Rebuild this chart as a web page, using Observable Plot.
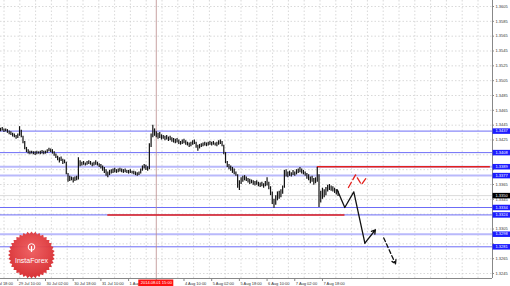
<!DOCTYPE html>
<html><head><meta charset="utf-8">
<script src="https://cdn.jsdelivr.net/npm/d3@7"></script>
<script src="https://cdn.jsdelivr.net/npm/@observablehq/plot@0.6"></script>
<style>
html,body{margin:0;padding:0;background:#fff;}
#wrap{position:relative;width:510px;height:286px;overflow:hidden;}
#wrap svg{display:block;}
</style></head><body><div id="wrap"></div>
<script>
// ---------- data ----------
const priceTicks = [1.3245,1.3265,1.3285,1.3305,1.3325,1.3345,1.3365,1.3385,1.3405,1.3425,1.3445,1.3465,1.3485,1.3505,1.3525,1.3545,1.3565,1.3585,1.3605];
const timeTicks = [-6,10,26,42,58,74,90,106,122,138,154,170,186]; // trading-hour index from 29 Jul 00:00
const timeLabels = ["28 Jul 18:00","29 Jul 10:00","30 Jul 02:00","30 Jul 18:00","31 Jul 10:00","1 Aug 02:00","1 Aug 18:00","4 Aug 10:00","5 Aug 02:00","5 Aug 18:00","6 Aug 10:00","7 Aug 02:00","7 Aug 18:00"];

const lows = [
1.3436,1.3437,1.3435,1.3436,1.3434,1.3432,1.3431,1.3429,1.3428,1.3426,
1.3427,1.3430,1.3428,1.3420,1.3412,1.3408,1.3406,1.3405,1.3406,1.3405,
1.3404,1.3405,1.3406,1.3405,1.3406,1.3405,1.3406,1.3407,1.3409,1.3408,
1.3406,1.3403,1.3400,1.3397,1.3394,1.3396,1.3392,1.3393,1.3378,1.3368,
1.3369,1.3370,1.3367,1.3369,1.3370,1.3371,1.3389,1.3390,1.3391,1.3390,
1.3391,1.3392,1.3391,1.3389,1.3390,1.3391,1.3390,1.3388,1.3386,1.3383,
1.3380,1.3376,1.3374,1.3377,1.3379,1.3380,1.3381,1.3380,1.3381,1.3382,
1.3381,1.3380,1.3381,1.3380,1.3379,1.3380,1.3379,1.3378,1.3377,1.3376,
1.3377,1.3379,1.3383,1.3386,1.3384,1.3383,1.3385,1.3415,1.3428,1.3430,
1.3428,1.3426,1.3427,1.3425,1.3426,1.3424,1.3425,1.3423,1.3424,1.3422,
1.3421,1.3420,1.3421,1.3419,1.3418,1.3419,1.3420,1.3418,1.3417,1.3415,
1.3416,1.3418,1.3419,1.3414,1.3410,1.3413,1.3415,1.3416,1.3417,1.3416,
1.3417,1.3418,1.3417,1.3418,1.3417,1.3416,1.3418,1.3419,1.3416,1.3405,
1.3393,1.3388,1.3385,1.3383,1.3380,1.3378,1.3376,1.3360,1.3357,1.3365,
1.3368,1.3370,1.3369,1.3367,1.3365,1.3366,1.3364,1.3363,1.3364,1.3362,
1.3361,1.3362,1.3360,1.3362,1.3363,1.3358,1.3350,1.3338,1.3333,1.3337,
1.3343,1.3345,1.3347,1.3352,1.3360,1.3375,1.3374,1.3376,1.3375,1.3377,
1.3376,1.3378,1.3380,1.3381,1.3379,1.3378,1.3376,1.3372,1.3370,1.3366,
1.3368,1.3364,1.3366,1.3368,1.3334,1.3340,1.3345,1.3347,1.3350,1.3355,
1.3357,1.3356,1.3355,1.3353,1.3351,1.3349];
const highs = [
1.3441,1.3442,1.3440,1.3440,1.3439,1.3437,1.3436,1.3434,1.3433,1.3431,
1.3433,1.3443,1.3438,1.3430,1.3423,1.3415,1.3412,1.3410,1.3410,1.3409,
1.3409,1.3410,1.3409,1.3410,1.3411,1.3410,1.3410,1.3412,1.3414,1.3413,
1.3412,1.3409,1.3406,1.3403,1.3401,1.3402,1.3399,1.3398,1.3395,1.3380,
1.3376,1.3375,1.3374,1.3375,1.3376,1.3401,1.3397,1.3395,1.3396,1.3394,
1.3396,1.3397,1.3396,1.3394,1.3395,1.3397,1.3395,1.3393,1.3392,1.3390,
1.3388,1.3385,1.3382,1.3384,1.3385,1.3386,1.3387,1.3385,1.3386,1.3387,
1.3386,1.3385,1.3386,1.3384,1.3384,1.3385,1.3383,1.3383,1.3382,1.3381,
1.3382,1.3386,1.3390,1.3392,1.3391,1.3389,1.3420,1.3433,1.3445,1.3440,
1.3436,1.3434,1.3435,1.3432,1.3431,1.3430,1.3431,1.3429,1.3430,1.3428,
1.3427,1.3426,1.3427,1.3425,1.3423,1.3425,1.3426,1.3424,1.3422,1.3421,
1.3422,1.3424,1.3425,1.3422,1.3418,1.3419,1.3420,1.3421,1.3422,1.3421,
1.3422,1.3423,1.3422,1.3423,1.3421,1.3422,1.3424,1.3425,1.3423,1.3418,
1.3408,1.3396,1.3392,1.3390,1.3388,1.3386,1.3382,1.3378,1.3370,1.3374,
1.3376,1.3377,1.3375,1.3373,1.3372,1.3371,1.3370,1.3369,1.3370,1.3368,
1.3367,1.3368,1.3366,1.3369,1.3374,1.3368,1.3362,1.3355,1.3345,1.3350,
1.3355,1.3356,1.3358,1.3363,1.3384,1.3385,1.3382,1.3383,1.3381,1.3384,
1.3382,1.3385,1.3386,1.3388,1.3386,1.3384,1.3382,1.3380,1.3378,1.3375,
1.3376,1.3373,1.3374,1.3388,1.3378,1.3356,1.3360,1.3358,1.3361,1.3364,
1.3365,1.3363,1.3362,1.3360,1.3358,1.3356];

const levels = [1.3437,1.3408,1.3389,1.3377,1.3334,1.3324,1.3298,1.3281];
const levelKinds = ["dark","dark","light","light","dark","dark","light","dark"];
const redStarts = [183, 62];
const redEnds = [283, 199];
const redPrices = [1.3389, 1.3324];
const bidPrice = 1.3350;
const crossTime = 90;
const crossLabel = "2014.08.01 15:00";
const fcBlackH = [194.5, 198.9, 204.1, 210.5];
const fcBlackP = [1.3358, 1.3334, 1.3355, 1.3286];
const fcBlackArrowH = [210.5, 216.6];
const fcBlackArrowP = [1.3286, 1.3304];
const fcDashArrowH = [221.4, 228.2];
const fcDashArrowP = [1.3293, 1.3258];
const fcRedH = [201, 205.1, 208.5, 212];
const fcRedP = [1.3361, 1.3378, 1.3365, 1.3376];

// ---------- layout calibration ----------
const W = 510, H = 286, mR = 18, mB = 8;
const pxPerH = 1.731, pxPerPrice = 7417;
const xMax = (W - mR) / pxPerH;
const yTop = 1.3605 + 6 / pxPerPrice;
const yBot = 1.3605 - 272 / pxPerPrice;
const gridX = d3.range(0, 31).map(k => (3.5 + 15.8 * k) / pxPerH);

const bars = lows.map((lo, i) => ({h: i, lo, hi: highs[i]}));
const lv = levels.map((p, i) => ({p, kind: levelKinds[i]}));
const reds = redPrices.map((p, i) => ({p, a: redStarts[i], b: redEnds[i]}));
const fcBlack = fcBlackH.map((h, i) => ({h, p: fcBlackP[i]}));
const fcRed = fcRedH.map((h, i) => ({h, p: fcRedP[i]}));
const font = "'Liberation Sans', Arial, sans-serif";
const boxW = 18 / pxPerH;
// axis labels hidden behind a highlighted level box (as in the terminal)
const shownTicks = priceTicks.filter(t => !levels.some(l => Math.abs(l - t) * pxPerPrice < 3.2));
const timeItems = timeTicks.map((t, i) => ({t, label: timeLabels[i]})).filter(d => d.t !== crossTime);

const chart = Plot.plot({
  width: W, height: H,
  marginLeft: 0, marginRight: mR, marginTop: 0, marginBottom: mB,
  x: {domain: [0, xMax], axis: null},
  y: {domain: [yBot, yTop], axis: null},
  style: {background: "white", fontFamily: font, overflow: "visible"},
  marks: [
    Plot.ruleY(priceTicks, {y: d => d, x1: 0, x2: xMax, stroke: "#cfcfcf", strokeDasharray: "1.5,2", strokeWidth: 0.8}),
    Plot.ruleX(gridX, {x: d => d, y1: yBot, y2: yTop, stroke: "#cfcfcf", strokeDasharray: "1.5,2", strokeWidth: 0.8}),
    Plot.ruleY(lv.filter(d => d.kind === "light"), {y: "p", x1: 0, x2: xMax, stroke: "#b9b9fb", strokeWidth: 2}),
    Plot.ruleY(lv.filter(d => d.kind === "dark"), {y: "p", x1: 0, x2: xMax, stroke: "#6c6cf6", strokeWidth: 1}),
    Plot.ruleY([bidPrice], {y: d => d, x1: 0, x2: xMax, stroke: "#dadada", strokeWidth: 1}),
    Plot.ruleX([crossTime], {x: d => d, y1: yBot, y2: yTop, stroke: "#bb8a8a", strokeWidth: 0.8}),
    Plot.ruleY(reds, {y: "p", x1: "a", x2: "b", stroke: "#e3201c", strokeWidth: 1.5}),
    Plot.ruleX(bars, {x: "h", y1: "lo", y2: "hi", stroke: "#111", strokeWidth: 1.2}),
    Plot.line(fcBlack, {x: "h", y: "p", stroke: "#111", strokeWidth: 1.3}),
    Plot.arrow([0], {x1: () => fcBlackArrowH[0], y1: () => fcBlackArrowP[0], x2: () => fcBlackArrowH[1], y2: () => fcBlackArrowP[1], stroke: "#111", strokeWidth: 1.3, headLength: 5}),
    Plot.arrow([0], {x1: () => fcDashArrowH[0], y1: () => fcDashArrowP[0], x2: () => fcDashArrowH[1], y2: () => fcDashArrowP[1], stroke: "#111", strokeWidth: 1.3, headLength: 5, strokeDasharray: "4,2.5"}),
    Plot.line(fcRed, {x: "h", y: "p", stroke: "#e3201c", strokeWidth: 1.3, strokeDasharray: "6,3"}),
    // axes
    Plot.ruleX([xMax], {x: d => d, y1: yBot, y2: yTop, stroke: "#888", strokeWidth: 1}),
    Plot.ruleY([yBot], {y: d => d, x1: 0, x2: xMax, stroke: "#888", strokeWidth: 1}),
    Plot.ruleY(priceTicks, {y: d => d, x1: xMax, x2: xMax + 2 / pxPerH, stroke: "#888"}),
    Plot.text(shownTicks, {x: xMax, y: d => d, text: d => d.toFixed(4), dx: 3, textAnchor: "start", fontSize: 4, fill: "#333", fontFamily: font}),
    Plot.ruleY(levels, {y: d => d, x1: xMax + 0.3, x2: xMax + boxW, stroke: "#1c1cff", strokeWidth: 5.5}),
    Plot.text(levels, {x: xMax, y: d => d, text: d => d.toFixed(4), dx: 3, textAnchor: "start", fontSize: 4, fill: "white", fontFamily: font}),
    Plot.ruleY([bidPrice], {y: d => d, x1: xMax + 0.3, x2: xMax + boxW, stroke: "#000", strokeWidth: 5.5}),
    Plot.text([bidPrice], {x: xMax, y: d => d, text: d => d.toFixed(4), dx: 3, textAnchor: "start", fontSize: 4, fill: "white", fontFamily: font}),
    Plot.ruleX(timeTicks, {x: d => d, y1: yBot, y2: yBot - 3 / pxPerPrice, stroke: "#888"}),
    Plot.text(timeItems, {x: "t", y: yBot, text: "label", dx: 1, dy: 5, textAnchor: "start", fontSize: 4, fill: "#333", fontFamily: font}),
    Plot.ruleY([yBot], {y: d => d, x1: crossTime - 17.5 / pxPerH, x2: crossTime + 17.5 / pxPerH, dy: 4.5, stroke: "#ff1010", strokeWidth: 7}),
    Plot.text([crossLabel], {x: crossTime, y: yBot, text: d => d, dy: 4.5, fontSize: 4, fill: "white", fontFamily: font})
  ]
});
document.getElementById("wrap").appendChild(chart);

// ---------- InstaForex watermark ----------
const svg = d3.select(chart);
const defs = svg.append("defs");
const grad = defs.append("radialGradient").attr("id", "lg").attr("cx", "50%").attr("cy", "40%").attr("r", "60%");
grad.append("stop").attr("offset", "0%").attr("stop-color", "#ee5a5c");
grad.append("stop").attr("offset", "100%").attr("stop-color", "#d6282c");
const cx = 31.5, cy = 255, n = 36;
const pts = d3.range(n * 2).map(i => {
  const r = i % 2 ? 21.3 : 23.5;
  const a = Math.PI * i / n;
  return [cx + r * Math.sin(a), cy - r * Math.cos(a)];
});
const g = svg.append("g");
g.append("polygon").attr("points", pts.map(p => p.join(",")).join(" ")).attr("fill", "url(#lg)").attr("opacity", 0.95);
g.append("circle").attr("cx", cx).attr("cy", cy - 8).attr("r", 3.3).attr("fill", "none").attr("stroke", "white").attr("stroke-width", 1);
g.append("line").attr("x1", cx).attr("x2", cx).attr("y1", cy - 9).attr("y2", cy - 3).attr("stroke", "white").attr("stroke-width", 1.2);
g.append("text").attr("x", cx).attr("y", cy + 8).attr("text-anchor", "middle").attr("font-size", 7).attr("font-family", font).attr("fill", "white").text("InstaForex");
</script></body></html>
